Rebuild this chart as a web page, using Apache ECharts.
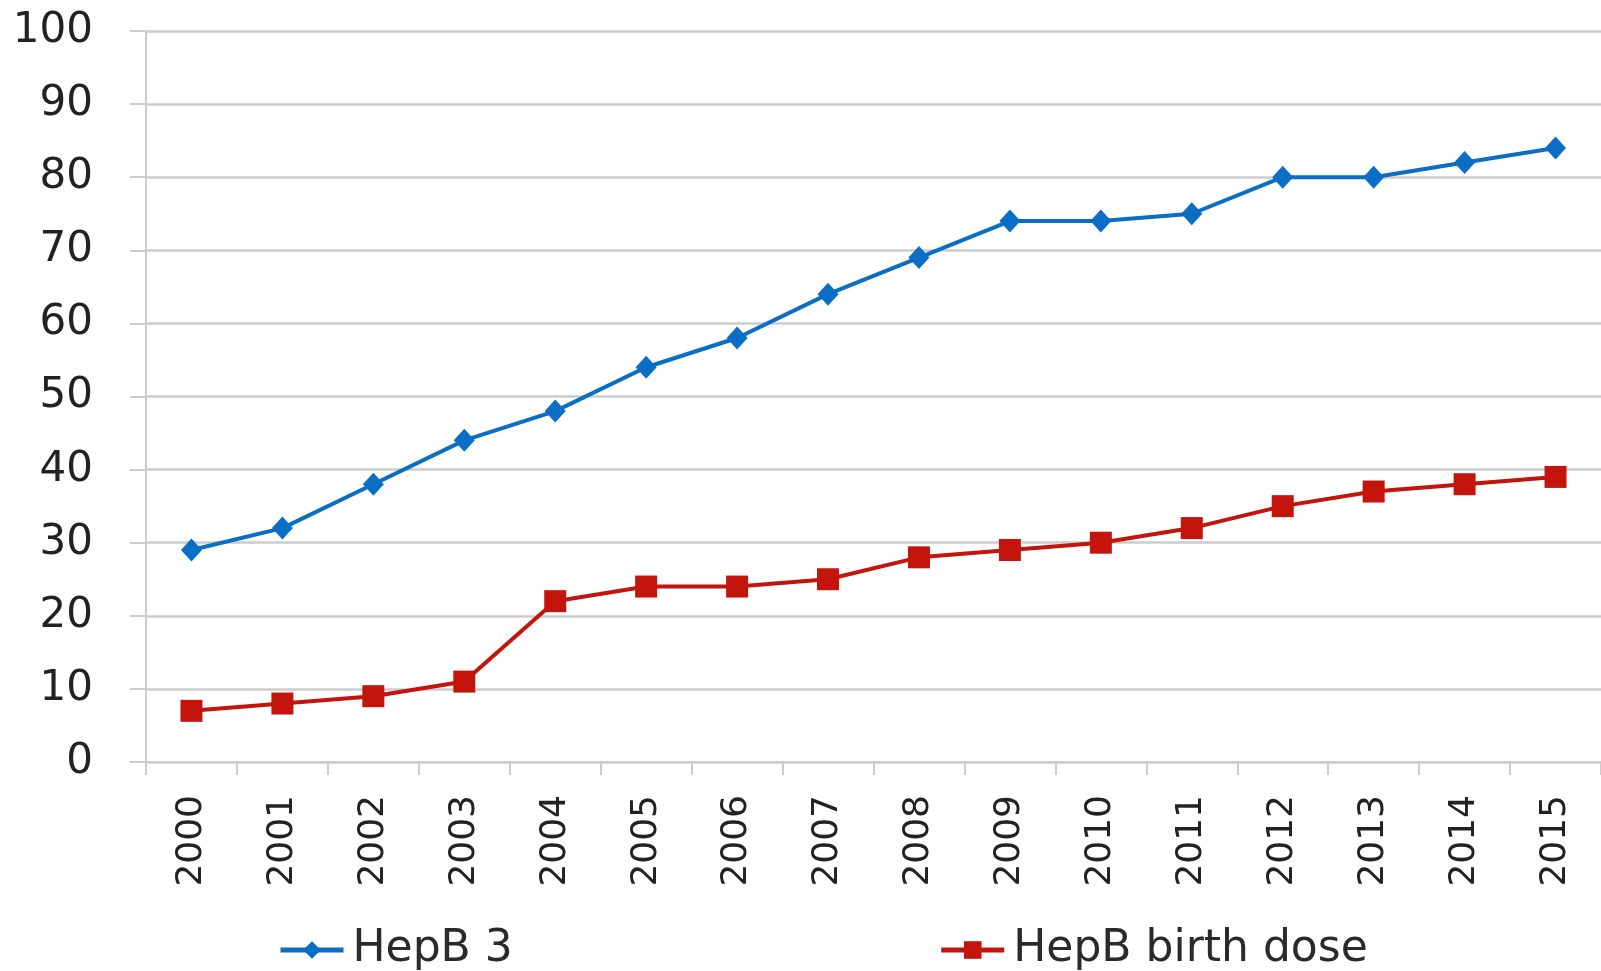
<!DOCTYPE html>
<html>
<head>
<meta charset="utf-8">
<script src="https://cdn.jsdelivr.net/npm/echarts@6/dist/echarts.min.js"></script>
<style>
html,body{margin:0;padding:0;background:#fff;}
#chart{width:1601px;height:971px;}
</style>
</head>
<body>
<div id="chart"></div>
<script>
// years on the x axis
const years = ['2000','2001','2002','2003','2004','2005','2006','2007','2008','2009','2010','2011','2012','2013','2014','2015']
// coverage, %
const hepb3 = [29,32,38,44,48,54,58,64,69,74,74,75,80,80,82,84]
const birthDose = [7,8,9,11,22,24,24,25,28,29,30,32,35,37,38,39]
const yTicks = [0,10,20,30,40,50,60,70,80,90,100]

const blue = '#0a6ec4'
const red = '#c4150d'
const grey = '#cccccc'

let chart = echarts.init(document.getElementById('chart'))
chart.setOption({
    animation:false,
    textStyle:{fontFamily:'DejaVu Sans'},
    grid:{left:146,top:31,right:-1,bottom:209,containLabel:false},
    legend:{
        bottom:-6,
        left:273,
        itemGap:426,
        itemWidth:63,
        itemHeight:22,
        lineStyle:{width:5},
        textStyle:{fontSize:44,color:'#2a2a2a',fontFamily:'DejaVu Sans',padding:[0,0,0,4]},
        data:['HepB 3','HepB birth dose']
    },
    xAxis:{
        type:'category',
        data:years,
        boundaryGap:true,
        axisLine:{lineStyle:{color:grey,width:2}},
        axisTick:{show:true,length:13,lineStyle:{color:grey,width:2}},
        axisLabel:{rotate:90,margin:33,fontSize:36,color:'#222'}
    },
    yAxis:{
        type:'value',
        min:yTicks[0],
        max:yTicks[yTicks.length-1],
        interval:10,
        axisLine:{show:true,lineStyle:{color:grey,width:2}},
        axisTick:{show:true,length:16,lineStyle:{color:grey,width:2}},
        splitLine:{lineStyle:{color:grey,width:2.5}},
        axisLabel:{margin:53,fontSize:42,color:'#222'}
    },
    series:[
        {
            name:'HepB 3',
            type:'line',
            data:hepb3,
            symbol:'diamond',
            symbolSize:[21,23],
            lineStyle:{color:blue,width:4},
            itemStyle:{color:blue}
        },
        {
            name:'HepB birth dose',
            type:'line',
            data:birthDose,
            symbol:'rect',
            symbolSize:22,
            lineStyle:{color:red,width:4},
            itemStyle:{color:red}
        }
    ]
})
</script>
</body>
</html>
